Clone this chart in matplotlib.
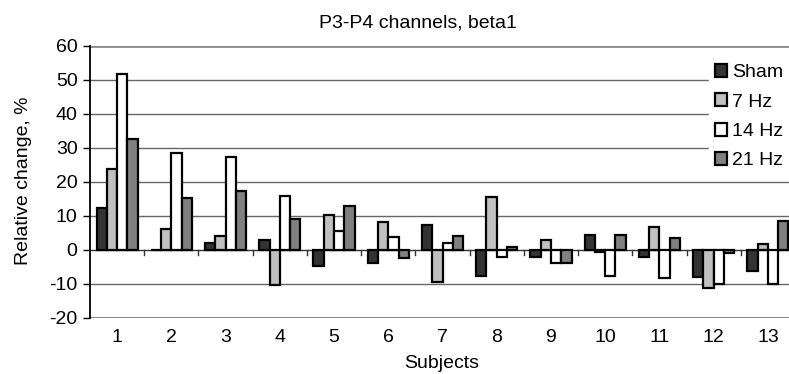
import matplotlib
matplotlib.use("Agg")
import matplotlib.pyplot as plt
import numpy as np

plt.rcParams['font.family'] = ['Liberation Sans', 'DejaVu Sans']

subjects = [str(i) for i in range(1, 14)]
series_names = ["Sham", "7 Hz", "14 Hz", "21 Hz"]
sham = [12.3, 0.0, 2.0, 3.0, -4.8, -3.8, 7.3, -7.5, -2.0, 4.4, -2.2, -8.0, -6.2]
hz7 = [23.8, 6.1, 4.1, -10.4, 10.4, 8.1, -9.3, 15.5, 2.9, -0.5, 6.8, -11.1, 1.7]
hz14 = [51.7, 28.6, 27.4, 16.0, 5.5, 3.7, 2.2, -2.1, -3.7, -7.6, -8.1, -10.0, -10.1]
hz21 = [32.6, 15.4, 17.3, 9.1, 13.0, -2.4, 4.0, 0.9, -3.7, 4.5, 3.4, -0.8, 8.5]
colors = ["#333333", "#c0c0c0", "#ffffff", "#808080"]
yticks = [-20, -10, 0, 10, 20, 30, 40, 50, 60]

W, H = 789, 374
FS = 14
fig = plt.figure(figsize=(W / 100, H / 100), dpi=100)
x0, x1, ytop, ybot = 90, 795, 46, 318
ax = fig.add_axes([x0 / W, 1 - ybot / H, (x1 - x0) / W, (ybot - ytop) / H])

x = np.arange(1, 14)
bw = 0.19
data = [sham, hz7, hz14, hz21]
for i, (vals, c) in enumerate(zip(data, colors)):
    ax.bar(x + (i - 1.5) * bw, vals, width=bw, color=c, edgecolor="black",
           linewidth=1.6, zorder=3, label=series_names[i])

ax.set_xlim(0.5, 13.5)
ax.set_ylim(-20, 60)
ax.set_yticks(yticks)
ax.set_yticklabels([str(v) for v in yticks], fontsize=FS)
for v in [10, 20, 30, 40, 50, -10]:
    ax.axhline(v, color="#666666", linewidth=1.0, zorder=1)
ax.axhline(60, color="#8a8a8a", linewidth=2.0, zorder=1)
ax.axhline(-20, color="#8a8a8a", linewidth=2.2, zorder=1)
ax.axhline(0, color="#333333", linewidth=1.0, zorder=2)
for b in np.arange(1.5, 13.5, 1.0):
    ax.plot([b, b], [0, -1.5], color="#333333", linewidth=1.0, zorder=2, clip_on=False)

for s in ["top", "right", "bottom"]:
    ax.spines[s].set_visible(False)
ax.spines["left"].set_color("black")
ax.spines["left"].set_linewidth(1.3)
ax.tick_params(axis="y", direction="out", length=5, width=1, pad=4)
ax.set_xticks(x)
ax.set_xticklabels(subjects, fontsize=FS)
ax.tick_params(axis="x", length=0, pad=8)

fig.text(418 / W, 1 - 28 / H, "P3-P4 channels, beta1", ha="center", va="baseline", fontsize=FS)
fig.text(442 / W, 1 - 368 / H, "Subjects", ha="center", va="baseline", fontsize=FS)
fig.text(24 / W, 1 - 181 / H, "Relative change, %", ha="center", va="center",
         rotation=90, fontsize=FS)

leg = ax.legend(loc="upper left", bbox_to_anchor=(709 / W, 1 - 58 / H),
                bbox_transform=fig.transFigure, frameon=True, fontsize=FS,
                handlelength=0.65, handleheight=0.65, handletextpad=0.25,
                labelspacing=0.62, borderpad=0.3, borderaxespad=0)
leg.get_frame().set_facecolor("white")
leg.get_frame().set_edgecolor("white")
leg.get_frame().set_alpha(1)
leg.get_frame().set_boxstyle("square", pad=0)
leg.set_zorder(5)

fig.savefig("out.png", dpi=100)
